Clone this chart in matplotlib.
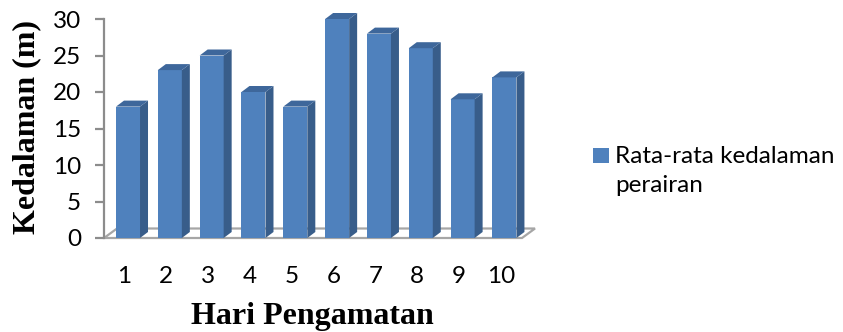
import numpy as np
import matplotlib.pyplot as plt
from matplotlib.patches import Polygon, Rectangle
import matplotlib.transforms as mtransforms

hari = ["1", "2", "3", "4", "5", "6", "7", "8", "9", "10"]
kedalaman = [18, 23, 25, 20, 18, 30, 28, 26, 19, 22]
y_ticks = [0, 5, 10, 15, 20, 25, 30]
legend_label = "Rata-rata kedalaman\nperairan"

front_col = "#4F81BD"
side_col = "#385D8A"
top_col = "#3E679B"
grid_col = "#A6A6A6"
tick_font = "Lato"
tick_size = 17.5
title_font = "Liberation Serif"

W, H = 843, 332
fig = plt.figure(figsize=(W / 100, H / 100), dpi=100)
ax = fig.add_axes([104 / W, 94 / H, 418 / W, 219 / H])

x = np.arange(len(hari))
x0, x1 = -0.574, 9.42
bar_w = 0.574
ax.set_xlim(x0, x1)
ax.set_ylim(0, 30)

# pixel -> data conversion for the fake 3d depth
px_x = 418 / (x1 - x0)
px_y = 219 / 30
dx, dy = 8 / px_x, 6 / px_y
fdx, fdy = 13 / px_x, 9.5 / px_y

# floor
floor = Polygon([(x0, 0), (x1, 0), (x1 + fdx, fdy), (x0 + fdx, fdy)],
                closed=True, facecolor="white", edgecolor=grid_col,
                linewidth=1.6, clip_on=False, zorder=1)
ax.add_patch(floor)

# bars: front face + side + top
ax.bar(x, kedalaman, width=bar_w, color=front_col, zorder=3, clip_on=False)
for xi, v in zip(x, kedalaman):
    l, r = xi - bar_w / 2, xi + bar_w / 2
    side = Polygon([(r, 0), (r + dx, dy), (r + dx, v + dy), (r, v)],
                   closed=True, facecolor=side_col, edgecolor="none",
                   clip_on=False, zorder=3)
    top = Polygon([(l, v), (l + dx, v + dy), (r + dx, v + dy), (r, v)],
                  closed=True, facecolor=top_col, edgecolor="none",
                  clip_on=False, zorder=3)
    ax.add_patch(side)
    ax.add_patch(top)

for s in ["top", "right", "bottom"]:
    ax.spines[s].set_visible(False)
ax.spines["left"].set_color("#8C8C8C")
ax.spines["left"].set_linewidth(1.6)

ax.set_yticks(y_ticks)
ax.set_yticklabels([str(t) for t in y_ticks], fontfamily=tick_font, fontsize=tick_size)
ax.tick_params(axis="y", length=6.5, width=1.6, color="#8C8C8C", pad=10)

ax.set_xticks(x)
ax.set_xticklabels(hari, fontfamily=tick_font, fontsize=tick_size)
ax.tick_params(axis="x", length=0, pad=20)
shift = mtransforms.ScaledTranslation(-0.035, 0, fig.dpi_scale_trans)
for lbl in ax.get_xticklabels():
    lbl.set_transform(lbl.get_transform() + shift)

fig.text(27 / W, 1 - 127 / H, "Kedalaman (m)", rotation=90, ha="center",
         va="center", fontfamily=title_font, fontweight="bold", fontsize=23)
fig.text(312 / W, 1 - 324 / H, "Hari Pengamatan", ha="center", va="baseline",
         fontfamily=title_font, fontweight="bold", fontsize=23)

# legend
fig.add_artist(Rectangle((593 / W, 1 - 163 / H), 16 / W, 15 / H,
                         transform=fig.transFigure, facecolor=front_col,
                         edgecolor="none"))
for k, line in enumerate(legend_label.split("\n")):
    fig.text(615 / W, 1 - (163 + 29 * k) / H, line, ha="left", va="baseline",
             fontfamily=tick_font, fontsize=tick_size)

fig.savefig("out.png", dpi=100)
